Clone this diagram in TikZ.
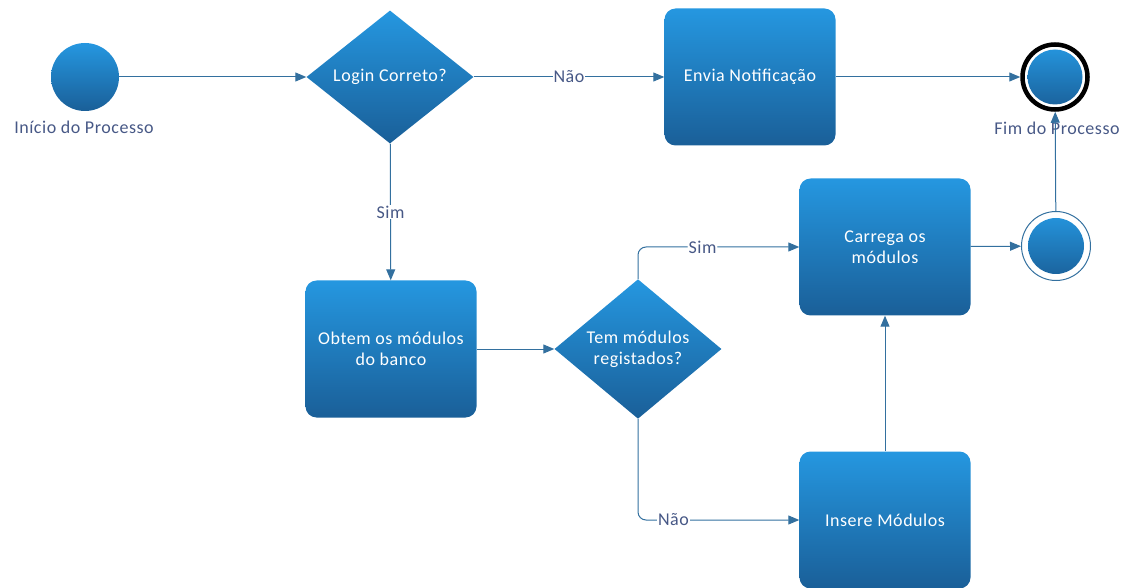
\documentclass[tikz,border=0pt]{standalone}
\usepackage{fontspec}
\setmainfont{Carlito}[LetterSpace=3]
\usetikzlibrary{shapes.geometric,arrows.meta}
\definecolor{flowtop}{HTML}{2597E0}
\definecolor{flowbot}{HTML}{1A5F98}
\definecolor{flowline}{HTML}{33709F}
\definecolor{flowtext}{HTML}{475886}
\tikzset{
  flowfill/.style={top color=flowtop,bottom color=flowbot,draw=none},
  action/.style={flowfill,rectangle,rounded corners=11pt,minimum width=171pt,
    minimum height=137pt,align=center,text=white},
  decision/.style={flowfill,diamond,minimum width=167pt,minimum height=133pt,
    inner sep=0pt,align=center,text=white},
  startnode/.style={flowfill,circle,minimum size=68pt,inner sep=0pt},
  endnode/.style={circle,minimum size=65pt,inner sep=0pt,draw=black,line width=4.5pt,fill=white,
    path picture={\shade[top color=flowtop,bottom color=flowbot]
      (path picture bounding box.center) circle (27.5pt);}},
  mergenode/.style={circle,minimum size=69pt,inner sep=0pt,draw=flowline,line width=1pt,fill=white,
    path picture={\shade[top color=flowtop,bottom color=flowbot]
      (path picture bounding box.center) circle (28pt);}},
  caption/.style={text=flowtext},
  flow/.style={draw=flowline,line width=1pt,-{Triangle[length=11pt,width=9pt]}},
  choice/.style={fill=white,inner sep=1pt,text=flowtext}
}
\begin{document}
\begin{tikzpicture}[x=1pt,y=-1pt,font=\fontsize{18}{21}\selectfont]
  \useasboundingbox (0,0) rectangle (1128,588);
  \node[startnode] (inicio) at (85,77) {};
  \node[caption] (inicio-txt) at (84,127) {Início do Processo};
  \node[decision] (login) at (390,77) {Login Correto?};
  \node[action] (envia) at (750,77) {Envia Notificação};
  \node[endnode] (fim) at (1055,77) {};
  \node[caption] (fim-txt) at (1057,128) {Fim do Processo};
  \node[action] (obtem) at (391,349) {Obtem os módulos\\do banco};
  \node[decision] (tem) at (638,349) {Tem módulos\\registados?};
  \node[action] (carrega) at (885,247) {Carrega os\\módulos};
  \node[action] (insere) at (885,520) {Insere Módulos};
  \node[mergenode] (juncao) at (1056,246) {};
  \begin{scope}[flow]
    \draw (inicio) to (login);
    \draw (login) to node[choice] {Não} (envia);
    \draw (envia) to (fim);
    \draw (login) to node[choice,pos=0.5] {Sim} (obtem);
    \draw (obtem) to (tem);
    \draw[rounded corners=8pt] (tem.north) |- node[choice,pos=0.7] {Sim} (carrega.west);
    \draw[rounded corners=8pt] (tem.south) |- node[choice,pos=0.61] {Não} (insere.west);
    \draw (insere) to (carrega);
    \draw (carrega) to (juncao);
    \draw (juncao) to (fim);
  \end{scope}
\end{tikzpicture}
\end{document}
